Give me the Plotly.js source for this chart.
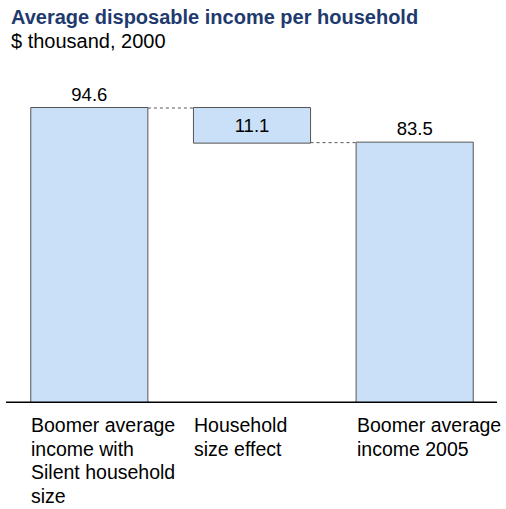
<!DOCTYPE html>
<html>
<head>
<meta charset="utf-8">
<script src="https://cdn.plot.ly/plotly-3.0.1.min.js"></script>
<style>html,body{margin:0;padding:0;background:#fff;}#chart{width:506px;height:509px;}</style>
</head>
<body>
<div id="chart"></div>
<script>
// Data
const categories = ["Boomer average<br>income with<br>Silent household<br>size", "Household<br>size effect", "Boomer average<br>income 2005"];
const measures = ["absolute", "relative", "total"];
const values = [94.6, -11.1, 0];
const totalValue = 83.5;
const valueLabels = ["94.6", "11.1", "83.5"];
const titleText = "Average disposable income per household";
const subtitleText = "$ thousand, 2000";

const FONT = "Liberation Sans, Arial, sans-serif";
const fill = "#c9e0f8";
const edge = {color: "#555555", width: 1};
const xs = [0, 1, 2];

const trace = {
  type: "waterfall",
  x: xs,
  y: values,
  measure: measures,
  text: valueLabels,
  textinfo: "text",
  textposition: ["outside", "inside", "outside"],
  insidetextanchor: "middle",
  textfont: {family: FONT, size: 18.5, color: "#000"},
  outsidetextfont: {family: FONT, size: 18.5, color: "#000"},
  insidetextfont: {family: FONT, size: 18.5, color: "#000"},
  constraintext: "none",
  cliponaxis: false,
  increasing: {marker: {color: fill, line: edge}},
  decreasing: {marker: {color: fill, line: edge}},
  totals: {marker: {color: fill, line: edge}},
  connector: {mode: "between", line: {color: "#555555", width: 1, dash: "dot"}},
  hoverinfo: "none"
};

const annotations = [
  {xref: "paper", yref: "paper", x: 0.002, y: 1.162, xanchor: "left", yanchor: "top", showarrow: false,
   text: "<b>" + titleText + "</b>", font: {family: FONT, size: 20, color: "#1f3a6e"}},
  {xref: "paper", yref: "paper", x: 0.002, y: 1.092, xanchor: "left", yanchor: "top", showarrow: false,
   text: subtitleText, font: {family: FONT, size: 20, color: "#000"}}
];
xs.forEach((x, i) => {
  categories[i].split("<br>").forEach((line, k) => {
    annotations.push({x: x, y: 0, xref: "x", yref: "y", xanchor: "left", yanchor: "top", xshift: -60, yshift: -9 - 23.5 * k,
      showarrow: false, align: "left", text: line, font: {family: FONT, size: 19.5, color: "#000"}});
  });
});

const layout = {
  width: 506, height: 509,
  margin: {l: 8, r: 10, t: 60, b: 106},
  paper_bgcolor: "#fff", plot_bgcolor: "#fff",
  showlegend: false,
  waterfallgap: 0.28,
  xaxis: {range: [-0.5, 2.5], showticklabels: false, ticks: "", showgrid: false, zeroline: false, showline: false, fixedrange: true},
  yaxis: {range: [0, 110], visible: false, showgrid: false, zeroline: false, fixedrange: true},
  shapes: [{type: "line", xref: "paper", yref: "y", x0: -0.004, x1: 1.002, y0: 0, y1: 0, line: {color: "#000", width: 3}, layer: "above"}],
  annotations: annotations
};

Plotly.newPlot("chart", [trace], layout, {displayModeBar: false, staticPlot: true});
</script>
</body>
</html>
